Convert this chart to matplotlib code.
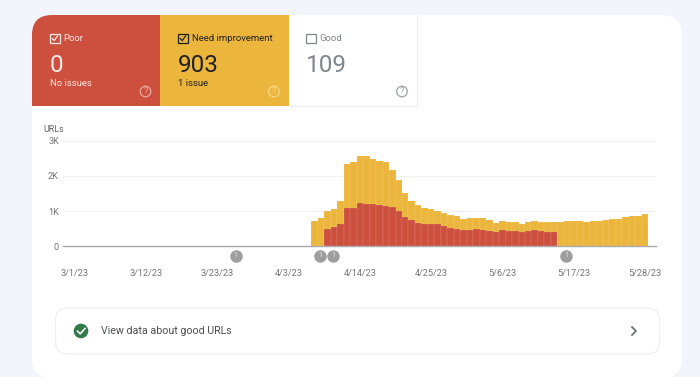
#!/usr/bin/env python3
"""Core Web Vitals style report card: status tiles plus stacked daily URL bars."""
import matplotlib
matplotlib.use("Agg")
import matplotlib.pyplot as plt
from matplotlib.patches import Circle, FancyBboxPatch, Rectangle

W, H = 700, 377
BG = "#f2f5fb"
RED = "#cd503f"
YEL = "#ecb63c"

# first bar is day 37 after 3/1/23
first_day = 37
total_k = [0.72, 0.81, 0.99, 1.06, 1.30, 2.35, 2.40, 2.56, 2.56, 2.47, 2.43, 2.40, 2.18,
           1.87, 1.52, 1.28, 1.16, 1.08, 1.06, 1.01, 0.94, 0.89, 0.85, 0.78, 0.79, 0.80,
           0.79, 0.74, 0.67, 0.71, 0.69, 0.68, 0.64, 0.70, 0.71, 0.70, 0.68, 0.68, 0.69,
           0.73, 0.73, 0.73, 0.69, 0.73, 0.73, 0.75, 0.77, 0.77, 0.83, 0.85, 0.87, 0.91]
poor_k = [0, 0, 0.49, 0.54, 0.62, 1.10, 1.10, 1.23, 1.21, 1.19, 1.16, 1.14, 1.11,
          1.00, 0.84, 0.74, 0.66, 0.64, 0.62, 0.62, 0.57, 0.52, 0.50, 0.46, 0.45, 0.48,
          0.46, 0.445, 0.42, 0.455, 0.435, 0.435, 0.41, 0.435, 0.455, 0.43, 0.41, 0.41]
tick_days = [0, 11, 22, 33, 44, 55, 66, 77, 88]
tick_dates = ["3/1/23", "3/12/23", "3/23/23", "4/3/23", "4/14/23", "4/25/23", "5/6/23", "5/17/23", "5/28/23"]
y_ticks = [0, 1, 2, 3]
y_labels = ["0", "1K", "2K", "3K"]
note_days = [24.85, 37.85, 39.85, 75.85]

plt.rcParams["font.family"] = ["Roboto", "DejaVu Sans"]
fig = plt.figure(figsize=(W / 100, H / 100), dpi=100, facecolor=BG)

# page layer, in pixels from the top left
bg = fig.add_axes([0, 0, 1, 1], zorder=0)
bg.set_xlim(0, W); bg.set_ylim(H, 0); bg.axis("off")

card = FancyBboxPatch((32, 15), 650, 363, boxstyle="round,pad=0,rounding_size=20", fc="white", ec="none")
bg.add_patch(card)
for x0, x1, col in [(32, 160, RED), (160, 289, YEL)]:
    r = Rectangle((x0, 15), x1 - x0, 91, fc=col, ec="none")
    bg.add_patch(r)
    r.set_clip_path(card)
bg.plot([289, 417, 417], [106, 106, 15], color="#eeeeee", lw=0.8)


def tile(x, col, name, value, sub, checked, help_x, help_col):
    bg.add_patch(Rectangle((x, 33.5), 9.5, 9.5, fc="none", ec=col, lw=0.9))
    if checked:
        bg.plot([x + 2.2, x + 4.2, x + 7.5], [38.5, 40.6, 36], color=col, lw=0.9)
    bg.text(x + 13.5, 38.5, name, color=col, fontsize=6.8, va="center")
    bg.text(x, 72, value, color=col, fontsize=17.5, va="baseline")
    if sub:
        bg.text(x, 84, sub, color=col, fontsize=6.8, va="center")
    bg.add_patch(Circle((help_x, 91.5), 5.3, fc="none", ec=help_col, lw=0.9))
    bg.text(help_x, 91.7, "?", color=help_col, fontsize=6.5, ha="center", va="center")


tile(50, "#fbe9e6", "Poor", "0", "No issues", True, 145.5, "#eaa99f")
tile(178, "#202124", "Need improvement", "903", "1 issue", True, 274, "#f6d98a")
tile(306, "#80868b", "Good", "109", "", False, 402, "#9aa0a6")

# bottom link row
bg.add_patch(FancyBboxPatch((55.5, 308), 604, 46, boxstyle="round,pad=0,rounding_size=12",
                            fc="white", ec="#f0f0f0", lw=0.9))
bg.add_patch(Circle((81, 331), 7.3, fc="#33794a", ec="none"))
bg.plot([77.5, 80.2, 85], [331.2, 333.8, 328.5], color="white", lw=1.2)
bg.text(101, 331, "View data about good URLs", color="#4a4d51", fontsize=7.7, va="center")
bg.plot([632, 636, 632], [327, 331, 335], color="#6f7378", lw=1.3)
bg.text(43.5, 129, "URLs", color="#5f6368", fontsize=6.4, va="center")

# chart layer: day n sits at pixel 75 + 6.475 n
px_day = 6.475
ax = fig.add_axes([63 / W, 1 - 246.3 / H, (656 - 63) / W, 105.6 / H], zorder=1)
ax.patch.set_alpha(0)
ax.set_xlim((63 - 75) / px_day, (656 - 75) / px_day)
ax.set_ylim(0, 3)
days = [first_day + i for i in range(len(total_k))]
# faint light edge gives the thin seams between days
ax.bar(days, total_k, width=1.0, color=YEL, ec=(1, 1, 1, 0.25), lw=0.3)
ax.bar(days[:len(poor_k)], poor_k, width=1.0, color=RED, ec=(1, 1, 1, 0.25), lw=0.3)
ax.set_yticks(y_ticks, y_labels)
ax.set_xticks(tick_days, tick_dates)
ax.tick_params(length=0, labelsize=6.6, labelcolor="#757575")
ax.tick_params(axis="x", pad=16.5)
ax.tick_params(axis="y", pad=3)
ax.grid(axis="y", color="#f1f1f1", lw=0.8)
ax.set_axisbelow(True)
for side in ["top", "right", "left"]:
    ax.spines[side].set_visible(False)
ax.spines["bottom"].set_color("#a8a8a8")
ax.spines["bottom"].set_linewidth(1.0)

# annotation badges just under the axis
for d in note_days:
    ax.plot([d], [-0.27], "o", ms=9, color="#9e9e9e", mec="none", clip_on=False)
    ax.text(d, -0.27, "1", color="#e8e8e8", fontsize=5, ha="center", va="center")

fig.savefig("out.png", dpi=100, facecolor=BG)
